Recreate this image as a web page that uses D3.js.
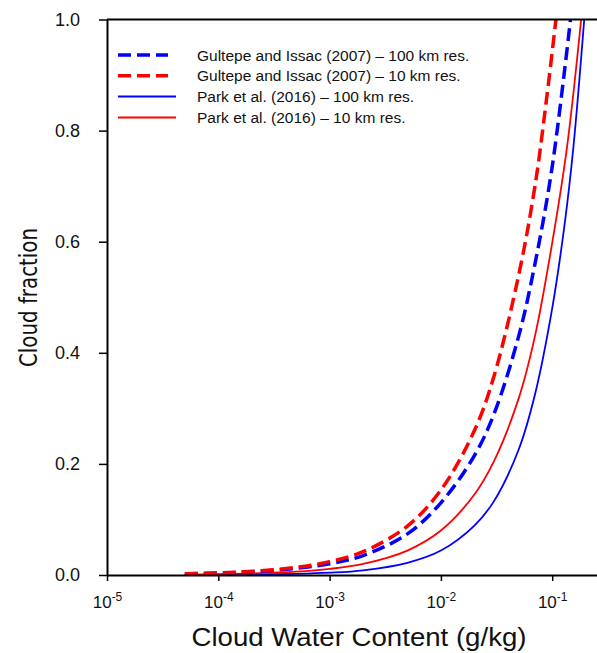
<!DOCTYPE html>
<html>
<head>
<meta charset="utf-8">
<script src="https://cdn.jsdelivr.net/npm/d3@7"></script>
<style>
  body { margin: 0; background: white; }
  svg { display: block; }
</style>
</head>
<body>
<script>
/* DATA */

// Gultepe and Issac (2007), 100 km res.
const gi100Cwc = [5e-5, 1e-4, 2e-4, 5e-4, 1e-3, 2e-3, 5e-3, 1e-2, 2e-2, 3e-2, 5e-2, 7e-2, 0.1, 0.146];
const gi100Cf  = [0.002, 0.0035, 0.006, 0.012, 0.020, 0.035, 0.074, 0.13, 0.215, 0.29, 0.43, 0.56, 0.735, 1.0];

// Gultepe and Issac (2007), 10 km res.
const gi10Cwc = [5e-5, 1e-4, 2e-4, 5e-4, 1e-3, 2e-3, 5e-3, 1e-2, 2e-2, 3e-2, 5e-2, 7e-2, 0.09, 0.108];
const gi10Cf  = [0.0022, 0.0038, 0.0066, 0.0137, 0.024, 0.042, 0.088, 0.153, 0.26, 0.358, 0.54, 0.70, 0.865, 1.0];

// Park et al. (2016), 100 km res.
const park100Cwc = [5e-5, 1e-4, 2e-4, 5e-4, 1e-3, 2e-3, 5e-3, 1e-2, 2e-2, 3e-2, 5e-2, 7e-2, 0.1, 0.13, 0.155, 0.194];
const park100Cf  = [0.0003, 0.0005, 0.0009, 0.0021, 0.0042, 0.0085, 0.022, 0.044, 0.089, 0.133, 0.226, 0.325, 0.48, 0.635, 0.77, 1.0];

// Park et al. (2016), 10 km res.
const park10Cwc = [5e-5, 1e-4, 2e-4, 5e-4, 1e-3, 2e-3, 5e-3, 1e-2, 2e-2, 3e-2, 5e-2, 7e-2, 0.1, 0.135, 0.182];
const park10Cf  = [0.0008, 0.0015, 0.0028, 0.006, 0.011, 0.02, 0.044, 0.08, 0.145, 0.205, 0.318, 0.43, 0.598, 0.766, 1.0];

const seriesNames = [
    'Gultepe and Issac (2007) \u2013 100 km res.',
    'Gultepe and Issac (2007) \u2013 10 km res.',
    'Park et al. (2016) \u2013 100 km res.',
    'Park et al. (2016) \u2013 10 km res.'
];

const xTickValues = [1e-5, 1e-4, 1e-3, 1e-2, 1e-1];
const xTickExponents = ['-5', '-4', '-3', '-2', '-1'];
const yTickValues = [0, 0.2, 0.4, 0.6, 0.8, 1.0];
const yTickLabels = ['0.0', '0.2', '0.4', '0.6', '0.8', '1.0'];

const xTitle = 'Cloud Water Content (g/kg)';
const yTitle = 'Cloud fraction';


/* STYLE */
var width = 597;
var height = 653;
var fontFamily = '"Liberation Sans", Arial, sans-serif';
var blue = '#0000ff';
var red = '#ff0000';
var dashPattern = '13,6';

// colour / dash per series, same order as seriesNames
const seriesStyles = [
    {color: blue, dash: dashPattern, width: 3.5},
    {color: red, dash: dashPattern, width: 3.5},
    {color: blue, dash: null, width: 1.8},
    {color: red, dash: null, width: 1.8}
];

const series = [
    d3.zip(gi100Cwc, gi100Cf),
    d3.zip(gi10Cwc, gi10Cf),
    d3.zip(park100Cwc, park100Cf),
    d3.zip(park10Cwc, park10Cf)
];


/* SCALES */
// log axis: one decade = 111.3 px, plot runs past the right edge (cropped like the reference)
const x = d3.scaleLog()
    .domain([1e-5, 1])
    .range([107, 107 + 5 * 111.3]);

const y = d3.scaleLinear()
    .domain([0, 1])
    .range([575, 19.5]);


const svg = d3.select('body').append('svg')
    .attr('width', width)
    .attr('height', height)
    .style('font-family', fontFamily);

svg.append('rect')
    .attr('width', width)
    .attr('height', height)
    .attr('fill', 'white');


/* CURVES */
const lineGen = d3.line()
    .x(d => x(d[0]))
    .y(d => y(d[1]))
    .curve(d3.curveCatmullRom.alpha(0.5));

// solids first, dashed on top (red dashed last, as in the reference)
[2, 3, 0, 1].forEach(i => {
    svg.append('path')
        .datum(series[i])
        .attr('d', lineGen)
        .attr('fill', 'none')
        .attr('stroke', seriesStyles[i].color)
        .attr('stroke-width', seriesStyles[i].width)
        .attr('stroke-dasharray', seriesStyles[i].dash);
});


/* AXES */
const xAxis = svg.append('g')
    .attr('transform', `translate(0, ${y(0)})`)
    .call(d3.axisBottom(x)
        .tickValues(xTickValues)
        .tickSize(6)
        .tickSizeOuter(0)
        .tickFormat(''));

// 10 with superscript exponent
xAxis.selectAll('.tick text')
    .attr('y', 33)
    .attr('dy', null)
    .style('font-size', '17px')
    .each(function(d, i) {
        const t = d3.select(this);
        t.text('10');
        t.append('tspan')
            .attr('dy', -7)
            .style('font-size', '12px')
            .text(xTickExponents[i]);
    });

const yAxis = svg.append('g')
    .attr('transform', `translate(${x(1e-5)}, 0)`)
    .call(d3.axisLeft(y)
        .tickValues(yTickValues)
        .tickSize(8)
        .tickPadding(19)
        .tickSizeOuter(0)
        .tickFormat((d, i) => yTickLabels[i]));

yAxis.selectAll('.tick text')
    .style('font-size', '18px');

svg.selectAll('.domain')
    .attr('stroke', '#000')
    .attr('stroke-width', 2);
svg.selectAll('.tick line')
    .attr('stroke', '#000')
    .attr('stroke-width', 1.5);
svg.selectAll('.tick text')
    .attr('fill', '#111');

// top frame line
svg.append('line')
    .attr('x1', x(1e-5))
    .attr('x2', x(1))
    .attr('y1', y(1))
    .attr('y2', y(1))
    .attr('stroke', '#000')
    .attr('stroke-width', 2);


/* TITLES */
svg.append('text')
    .attr('x', 359)
    .attr('y', 646)
    .attr('text-anchor', 'middle')
    .attr('textLength', 335)
    .attr('lengthAdjust', 'spacingAndGlyphs')
    .style('font-size', '25px')
    .attr('fill', '#111')
    .text(xTitle);

svg.append('text')
    .attr('transform', 'translate(37, 297.5) rotate(-90)')
    .attr('text-anchor', 'middle')
    .attr('textLength', 139)
    .attr('lengthAdjust', 'spacingAndGlyphs')
    .style('font-family', '"Liberation Sans Narrow", "DejaVu Sans Condensed", ' + fontFamily)
    .style('font-size', '25px')
    .attr('fill', '#111')
    .text(yTitle);


/* LEGEND */
const legend = svg.append('g')
    .attr('transform', 'translate(118, 55)');

const legendRow = 20.8;

seriesNames.forEach((name, i) => {
    const row = legend.append('g')
        .attr('transform', `translate(0, ${i * legendRow})`);
    row.append('line')
        .attr('x1', 0)
        .attr('x2', seriesStyles[i].dash ? 50 : 58)
        .attr('stroke', seriesStyles[i].color)
        .attr('stroke-width', seriesStyles[i].dash ? 3.5 : 2)
        .attr('stroke-dasharray', seriesStyles[i].dash);
    row.append('text')
        .attr('x', 79)
        .attr('y', 5.5)
        .style('font-size', '15.5px')
        .attr('fill', '#111')
        .text(name);
});
</script>
</body>
</html>
